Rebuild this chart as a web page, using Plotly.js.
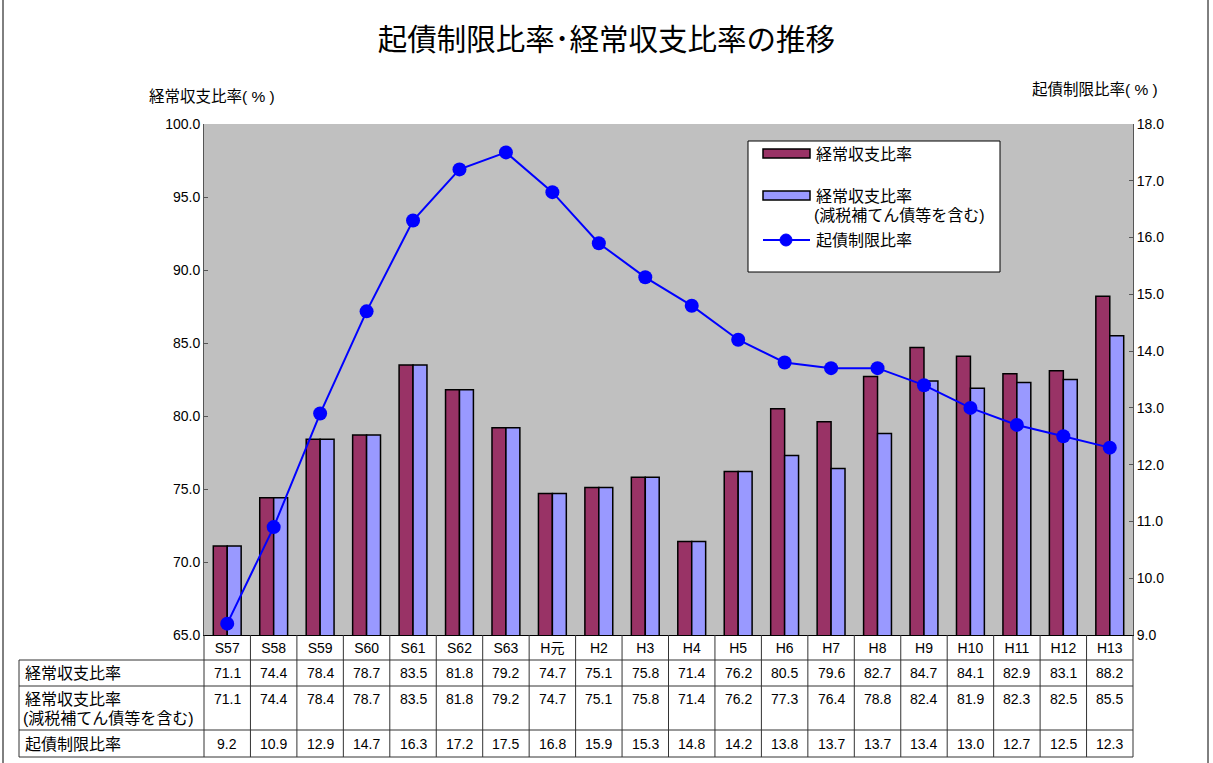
<!DOCTYPE html>
<html><head><meta charset="utf-8">
<script src="https://cdn.plot.ly/plotly-3.0.1.min.js"></script>
<style>html,body{margin:0;padding:0;background:#fff;}</style>
</head><body>
<div id="chart" style="width:1213px;height:763px;"></div>
<script>
const categories = ["S57","S58","S59","S60","S61","S62","S63","H元","H2","H3","H4","H5","H6","H7","H8","H9","H10","H11","H12","H13"];
const keijo = [71.1,74.4,78.4,78.7,83.5,81.8,79.2,74.7,75.1,75.8,71.4,76.2,80.5,79.6,82.7,84.7,84.1,82.9,83.1,88.2];
const keijoGenzei = [71.1,74.4,78.4,78.7,83.5,81.8,79.2,74.7,75.1,75.8,71.4,76.2,77.3,76.4,78.8,82.4,81.9,82.3,82.5,85.5];
const kisai = [9.2,10.9,12.9,14.7,16.3,17.2,17.5,16.8,15.9,15.3,14.8,14.2,13.8,13.7,13.7,13.4,13.0,12.7,12.5,12.3];
const name1 = "経常収支比率";
const name2a = "経常収支比率";
const name2b = "(減税補てん債等を含む)";
const name3 = "起債制限比率";

const FONT = "Liberation Sans, Arial, 'Noto Sans CJK JP', sans-serif";
const C1 = "#993366", C2 = "#9999FF", C3 = "#0000FF";

// pixel helpers (plot area: x 204..1133, y 124..635)
const PL=204, PR=1133, PT=124, PB=635;
const px = v => (v-PL)/(PR-PL);
const py = v => (PB-v)/(PB-PT);

const traces = [
  {type:"bar", x:categories, y:keijo, name:name1, marker:{color:C1, line:{color:"#000", width:1.5}}, showlegend:false},
  {type:"bar", x:categories, y:keijoGenzei, name:name2a, marker:{color:C2, line:{color:"#000", width:1.5}}, showlegend:false},
  {type:"scatter", mode:"lines+markers", x:categories, y:kisai, yaxis:"y2", name:name3,
   line:{color:C3, width:2}, marker:{color:C3, size:14}, showlegend:false, cliponaxis:false}
];

const shapes = [];
const annotations = [];
const LC = "#333";
function hline(y, x0, x1){ shapes.push({type:"line", xref:"paper", yref:"paper", x0:px(x0), x1:px(x1), y0:py(y), y1:py(y), line:{color:LC, width:1}}); }
function vlinePx(x, y0, y1){ shapes.push({type:"line", xref:"paper", yref:"paper", x0:px(x), x1:px(x), y0:py(y0), y1:py(y1), line:{color:LC, width:1}}); }

// table grid
hline(660, 19, 1133); hline(686, 19, 1133); hline(730, 19, 1133); hline(757, 19, 1133);
vlinePx(19, 660, 757); vlinePx(204, 635, 757); vlinePx(1133, 635, 757);
for (let i=1;i<categories.length;i++){
  shapes.push({type:"line", xref:"x", yref:"paper", x0:i-0.5, x1:i-0.5, y0:py(635), y1:py(757), line:{color:LC, width:1}});
}
// outer frame sides
shapes.push({type:"line", xref:"paper", yref:"paper", x0:px(3), x1:px(3), y0:py(-5), y1:py(770), line:{color:"#000", width:1}});
shapes.push({type:"line", xref:"paper", yref:"paper", x0:px(1208), x1:px(1208), y0:py(-5), y1:py(770), line:{color:"#000", width:1}});

// row labels
function txt(x, y, t, opts){ annotations.push(Object.assign({xref:"paper", yref:"paper", x:px(x), y:py(y), text:t, showarrow:false, xanchor:"left", yanchor:"middle", font:{family:FONT, size:16, color:"#000"}}, opts||{})); }
txt(23, 673, name1);
txt(23, 699, name2a);
txt(21, 718, name2b);
txt(23, 744, name3);

// table values
const rows = [[keijo, 673],[keijoGenzei, 699],[kisai, 744]];
rows.forEach(([arr, y]) => {
  arr.forEach((v,i) => {
    annotations.push({xref:"x", yref:"paper", x:categories[i], y:py(y), text:v.toFixed(1), showarrow:false, xanchor:"center", yanchor:"middle", font:{family:FONT, size:14, color:"#000"}});
  });
});

// axis titles
txt(212, 96, "経常収支比率( % )", {xanchor:"center", font:{family:FONT, size:15.5, color:"#000"}});
txt(1095, 90, "起債制限比率( % )", {xanchor:"center", font:{family:FONT, size:15.5, color:"#000"}});

// legend box
shapes.push({type:"rect", xref:"paper", yref:"paper", x0:px(748), x1:px(1000), y0:py(272), y1:py(141), fillcolor:"#fff", line:{color:"#000", width:1}});
shapes.push({type:"rect", xref:"paper", yref:"paper", x0:px(763), x1:px(810), y0:py(158), y1:py(149), fillcolor:C1, line:{color:"#000", width:1.5}});
shapes.push({type:"rect", xref:"paper", yref:"paper", x0:px(763), x1:px(810), y0:py(200), y1:py(191), fillcolor:C2, line:{color:"#000", width:1.5}});
shapes.push({type:"line", xref:"paper", yref:"paper", x0:px(763), x1:px(810), y0:py(240), y1:py(240), line:{color:C3, width:2}});
shapes.push({type:"circle", xref:"paper", yref:"paper", x0:px(780), x1:px(792), y0:py(246), y1:py(234), fillcolor:C3, line:{color:C3, width:1}});
txt(814, 154, name1);
txt(814, 196, name2a);
txt(812, 215, name2b);
txt(814, 240, name3);

const layout = {
  width:1213, height:763,
  margin:{l:PL, r:1213-PR, t:PT, b:763-PB},
  paper_bgcolor:"#fff", plot_bgcolor:"#C0C0C0",
  font:{family:FONT, size:14, color:"#000"},
  title:{text:"起債制限比率･経常収支比率の推移", x:0.5, xref:"container", y:1-40/763, yref:"container", yanchor:"middle", xanchor:"center", font:{family:FONT, size:29.5, color:"#000"}},
  barmode:"group", bargap:0.4, bargroupgap:0,
  showlegend:false,
  xaxis:{type:"category", range:[-0.5, categories.length-0.5], autorange:false, showline:true, linecolor:"#000", linewidth:1, mirror:false, ticks:"", showgrid:false, tickfont:{family:FONT, size:14}, fixedrange:true},
  yaxis:{range:[65,100], dtick:5, tickformat:".1f", showgrid:false, zeroline:false, showline:true, linecolor:"#555", linewidth:1, mirror:true, ticks:"inside", ticklen:4, tickcolor:"#555", tickfont:{family:FONT, size:14}},
  yaxis2:{overlaying:"y", side:"right", range:[9,18], dtick:1, tickformat:".1f", showgrid:false, zeroline:false, showline:true, linecolor:"#555", linewidth:1, ticks:"inside", ticklen:4, tickcolor:"#555", tickfont:{family:FONT, size:14}},
  shapes:shapes, annotations:annotations
};
Plotly.newPlot("chart", traces, layout, {displayModeBar:false, staticPlot:true});
</script>
</body></html>
